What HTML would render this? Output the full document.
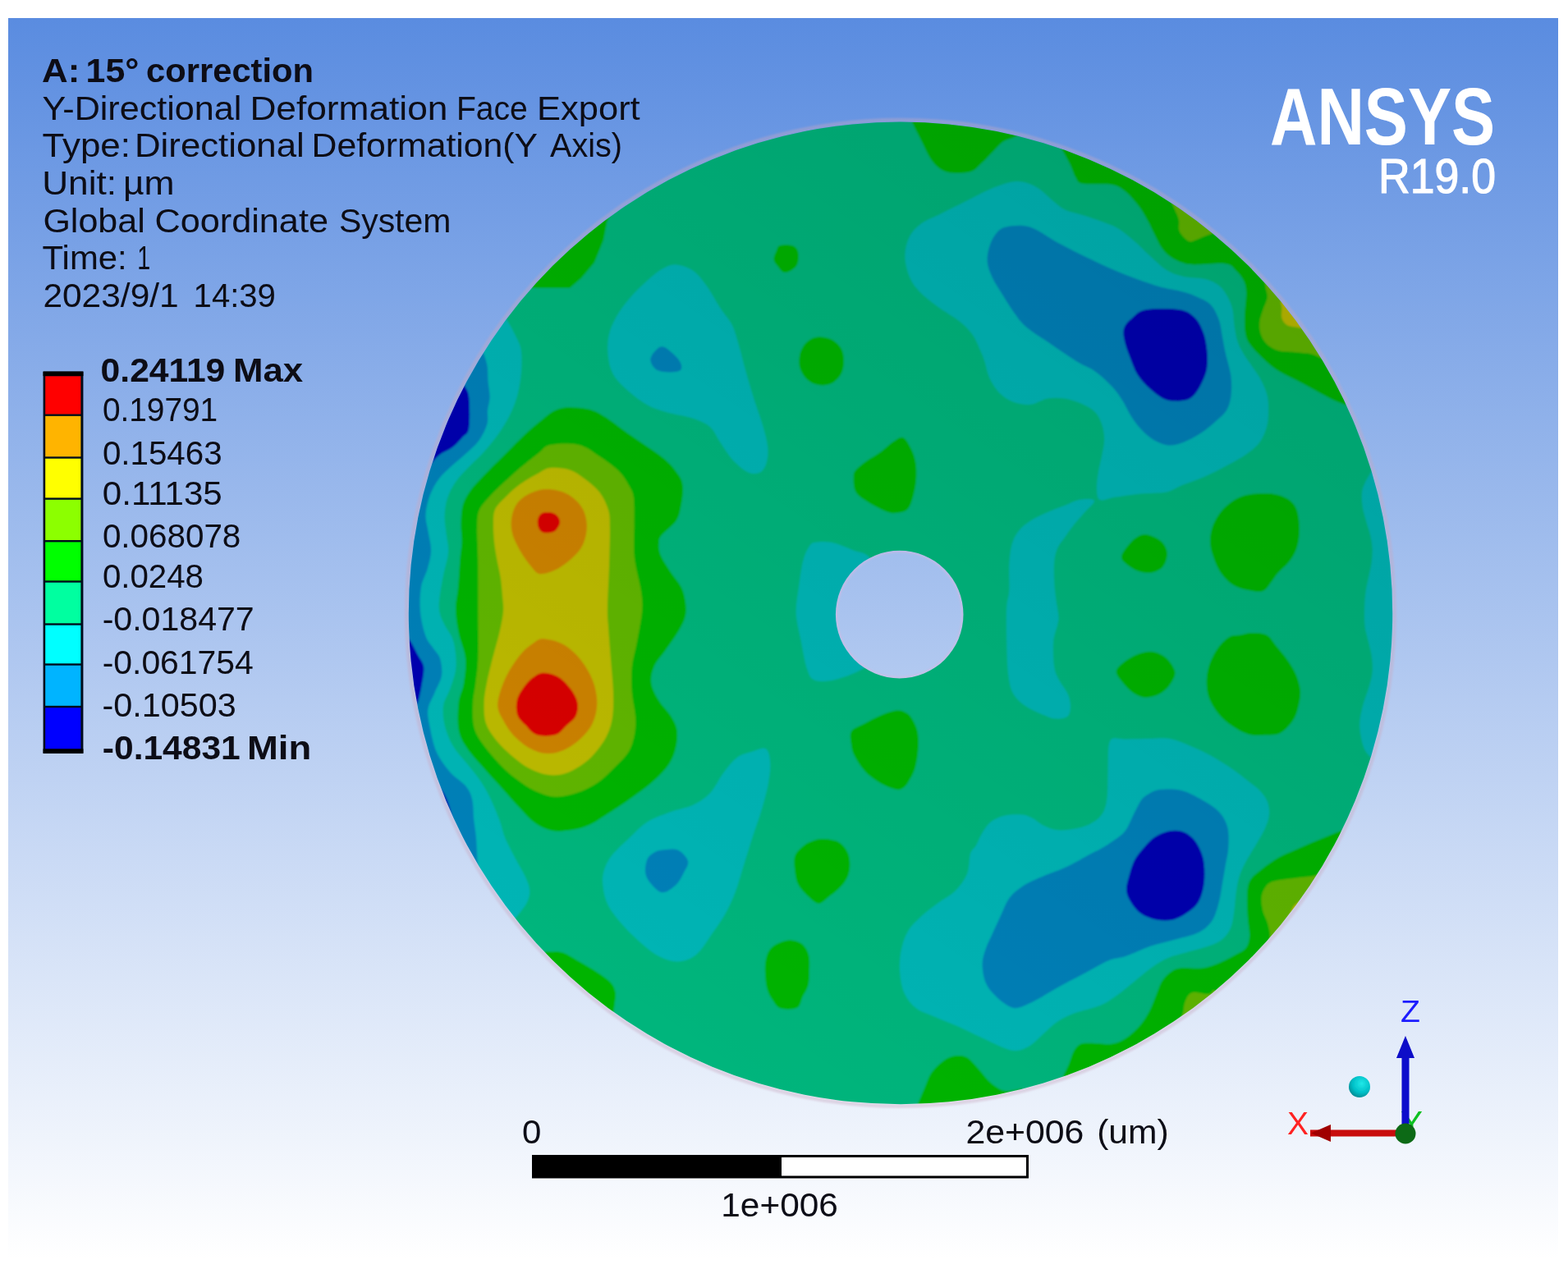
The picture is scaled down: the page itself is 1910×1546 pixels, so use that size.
<!DOCTYPE html>
<html lang="en">
<head>
<meta charset="utf-8">
<title>A: 15° correction - Y-Directional Deformation</title>
<style>
html,body{margin:0;padding:0;background:#fff;}
body{width:1910px;height:1546px;overflow:hidden;position:relative;}
svg{position:absolute;left:0;top:0;display:block;}
text{font-family:"Liberation Sans",sans-serif;}
</style>
</head>
<body>
<svg width="1910" height="1546" viewBox="0 0 1910 1546">
<defs>
<linearGradient id="bg" x1="0" y1="0" x2="0" y2="1">
<stop offset="0" stop-color="#5A8CE0"/>
<stop offset="1" stop-color="#FFFFFF"/>
</linearGradient>
<clipPath id="disk"><path clip-rule="evenodd" d="M497.8,746.9A599.2,598.3 0 1,0 1696.2,746.9A599.2,598.3 0 1,0 497.8,746.9ZM1017.9,748.6A77.8,77.8 0 1,0 1173.5,748.6A77.8,77.8 0 1,0 1017.9,748.6Z"/></clipPath>
<linearGradient id="lit" gradientUnits="userSpaceOnUse" x1="756" y1="1242" x2="1436" y2="254">
<stop offset="0" stop-color="#000" stop-opacity="0"/>
<stop offset="1" stop-color="#000" stop-opacity="0.10"/>
</linearGradient>
<filter id="tb" x="-2%" y="-10%" width="104%" height="120%"><feGaussianBlur stdDeviation="0.45"/></filter>
<filter id="soft" x="-2%" y="-2%" width="104%" height="104%"><feGaussianBlur stdDeviation="0.9"/></filter>
<radialGradient id="ball" cx="0.6" cy="0.35" r="0.7"><stop offset="0" stop-color="#20E8E8"/><stop offset="0.6" stop-color="#00C0C8"/><stop offset="1" stop-color="#008890"/></radialGradient>
</defs>
<rect x="10" y="22" width="1888" height="1512" fill="url(#bg)"/>
<g id="header" filter="url(#tb)">
<g fill="#0a0a14">
<text y="99.7" font-size="40" font-weight="bold"><tspan x="51.1" textLength="46.3" lengthAdjust="spacingAndGlyphs">A:</tspan> <tspan x="104.6" textLength="64.7" lengthAdjust="spacingAndGlyphs">15°</tspan> <tspan x="178.1" textLength="203.9" lengthAdjust="spacingAndGlyphs">correction</tspan></text>
<text y="145.5" font-size="40"><tspan x="51.5" textLength="242.8" lengthAdjust="spacingAndGlyphs">Y-Directional</tspan> <tspan x="304.4" textLength="241" lengthAdjust="spacingAndGlyphs">Deformation</tspan> <tspan x="555.9" textLength="86.8" lengthAdjust="spacingAndGlyphs">Face</tspan> <tspan x="654.1" textLength="125.6" lengthAdjust="spacingAndGlyphs">Export</tspan></text>
<text y="191.2" font-size="40"><tspan x="51.5" textLength="107.5" lengthAdjust="spacingAndGlyphs">Type:</tspan> <tspan x="164" textLength="206.7" lengthAdjust="spacingAndGlyphs">Directional</tspan> <tspan x="379.6" textLength="274.7" lengthAdjust="spacingAndGlyphs">Deformation(Y</tspan> <tspan x="670" textLength="88" lengthAdjust="spacingAndGlyphs">Axis)</tspan></text>
<text y="237" font-size="40"><tspan x="51.2" textLength="90.8" lengthAdjust="spacingAndGlyphs">Unit:</tspan> <tspan x="149.9" textLength="62.6" lengthAdjust="spacingAndGlyphs">µm</tspan></text>
<text y="282.5" font-size="40"><tspan x="52.4" textLength="124.3" lengthAdjust="spacingAndGlyphs">Global</tspan> <tspan x="188.4" textLength="211.6" lengthAdjust="spacingAndGlyphs">Coordinate</tspan> <tspan x="412.9" textLength="136.4" lengthAdjust="spacingAndGlyphs">System</tspan></text>
<text y="328" font-size="40"><tspan x="51.6" textLength="103.1" lengthAdjust="spacingAndGlyphs">Time:</tspan> <tspan x="167.3" textLength="16" lengthAdjust="spacingAndGlyphs">1</tspan></text>
<text y="373.7" font-size="40"><tspan x="52.4" textLength="165.3" lengthAdjust="spacingAndGlyphs">2023/9/1</tspan> <tspan x="235.6" textLength="100.3" lengthAdjust="spacingAndGlyphs">14:39</tspan></text>
</g>
</g>
<g id="logo" fill="#ffffff" filter="url(#tb)">
<text x="1547" y="175.5" font-size="99" font-weight="bold" textLength="274" lengthAdjust="spacingAndGlyphs">ANSYS</text>
<text x="1679" y="235" font-size="60" textLength="143" lengthAdjust="spacingAndGlyphs" stroke="#fff" stroke-width="1.2">R19.0</text>
</g>
<g id="legend" filter="url(#tb)">
<rect x="52.6" y="452.6" width="48.8" height="465.2" fill="#04101c"/>
<rect x="52.6" y="452.6" width="48.8" height="5.5" fill="#000"/>
<rect x="52.6" y="912.3" width="48.8" height="5.5" fill="#000"/>
<rect x="55.2" y="458.3" width="43.2" height="46.2" fill="#FF0000"/>
<rect x="55.2" y="506.9" width="43.2" height="49.4" fill="#FFB400"/>
<rect x="55.2" y="558.7" width="43.2" height="47.7" fill="#FFFF00"/>
<rect x="55.2" y="608.8" width="43.2" height="49.2" fill="#8CFF00"/>
<rect x="55.2" y="660.4" width="43.2" height="46.9" fill="#00FF00"/>
<rect x="55.2" y="709.7" width="43.2" height="49.6" fill="#00FFA0"/>
<rect x="55.2" y="761.7" width="43.2" height="46.6" fill="#00FFFF"/>
<rect x="55.2" y="810.7" width="43.2" height="49.1" fill="#00B4FF"/>
<rect x="55.2" y="862.2" width="43.2" height="50" fill="#0000FF"/>
<g fill="#0a0a14">
<text y="464.8" font-size="40" font-weight="bold"><tspan x="122.6" textLength="151.7" lengthAdjust="spacingAndGlyphs">0.24119</tspan> <tspan x="284.1" textLength="85.1" lengthAdjust="spacingAndGlyphs">Max</tspan></text>
<text y="513.4" font-size="40"><tspan x="124.9" textLength="140.3" lengthAdjust="spacingAndGlyphs">0.19791</tspan></text>
<text y="565.6" font-size="40"><tspan x="124.9" textLength="145.7" lengthAdjust="spacingAndGlyphs">0.15463</tspan></text>
<text y="614.6" font-size="40"><tspan x="124.8" textLength="145.9" lengthAdjust="spacingAndGlyphs">0.11135</tspan></text>
<text y="666.8" font-size="40"><tspan x="124.9" textLength="168.4" lengthAdjust="spacingAndGlyphs">0.068078</tspan></text>
<text y="716" font-size="40"><tspan x="124.9" textLength="123.1" lengthAdjust="spacingAndGlyphs">0.0248</tspan></text>
<text y="768.2" font-size="40"><tspan x="124.7" textLength="185" lengthAdjust="spacingAndGlyphs">-0.018477</tspan></text>
<text y="820.6" font-size="40"><tspan x="124.7" textLength="184.1" lengthAdjust="spacingAndGlyphs">-0.061754</tspan></text>
<text y="873.2" font-size="40"><tspan x="124.6" textLength="163.1" lengthAdjust="spacingAndGlyphs">-0.10503</tspan></text>
<text y="925.2" font-size="40" font-weight="bold"><tspan x="124.8" textLength="168" lengthAdjust="spacingAndGlyphs">-0.14831</tspan> <tspan x="300.9" textLength="78.3" lengthAdjust="spacingAndGlyphs">Min</tspan></text>
</g>
</g>
<g filter="url(#soft)">
<ellipse cx="1097" cy="746.9" rx="601.5" ry="600.6" fill="none" stroke="#c8a8c0" stroke-width="5" opacity="0.4"/>
<circle cx="1095.7" cy="748.6" r="76.8" fill="none" stroke="#d8b8e0" stroke-width="2.5" opacity="0.6"/>
</g>
<g id="contour" clip-path="url(#disk)">
<g filter="url(#soft)">
<rect x="480" y="130" width="1240" height="1240" fill="#00B57C"/>
<g fill="#00B5B5">
<path d="M612,383C612.8,384 614.5,385 617,389C619.5,393 624.2,401.3 627,407C629.8,412.7 632.6,417.5 634,423C635.4,428.5 635.5,433.5 635.5,440C635.5,446.5 635,454.7 634,462C633,469.3 631.8,476.7 629.6,484C627.4,491.3 624.5,498.7 620.8,506C617.1,513.3 612.7,520.7 607.6,528C602.5,535.3 595.9,543.4 590,550C584.1,556.6 578.3,561.4 572.4,567.6C566.5,573.8 559.4,580.8 554.8,587.4C550.2,594 547.1,600.2 544.9,607.2C542.7,614.2 541.8,621.9 541.6,629.2C541.4,636.5 543.1,643.9 543.8,651.2C544.5,658.5 546.7,664.4 546,673.2C545.3,682 541.2,694.1 539.4,704C537.6,713.9 535.6,725.3 535,732.6C534.4,739.9 534.8,743.1 536,748C537.2,752.9 539.3,756.4 542,762C544.7,767.6 550.1,773 552.4,781.4C554.6,789.8 556.2,802.8 555.5,812.4C554.8,822 550.9,831.4 548.3,839.3C545.7,847.2 541,852.4 540,860C539,867.6 539.9,876.6 542,884.9C544.1,893.2 547.9,902.1 552.4,909.7C556.9,917.3 563.8,923.9 569,930.4C574.2,936.9 579,942.5 583.5,949C588,955.5 591.8,961.4 595.9,969.7C600,978 605.1,990.2 608.3,998.7C611.5,1007.2 612,1012.9 615.2,1020.7C618.4,1028.5 623.5,1037.6 627.6,1045.5C631.7,1053.4 637.1,1061.7 640,1068.3C642.9,1074.9 644.9,1079.7 645.2,1084.9C645.5,1090.1 644.2,1094.5 642,1099.3C639.8,1104.1 635.1,1109.7 631.8,1113.8C628.5,1117.9 623.6,1122.3 622,1124L560,1130L470,1000L460,748L470,500L560,380Z"/>
<path d="M823.5,322.4C829.7,322.8 838,325.4 844.2,329.7C850.4,334 855.2,340.7 860.7,348.3C866.2,355.9 872.1,367.3 877.3,375.2C882.5,383.1 888,388.3 891.8,395.9C895.6,403.5 897.2,411.4 900,420.7C902.8,430 905.2,440.8 908.3,451.8C911.4,462.9 915.2,476 918.7,487C922.2,498 926.2,508.4 929,518C931.8,527.6 934.5,537 935.2,544.9C935.9,552.8 934.9,560.4 933.2,565.6C931.5,570.8 928.7,574.5 924.9,576C921.1,577.5 915.9,577.7 910.4,574.9C904.9,572.1 897.3,565.4 891.8,559.4C886.3,553.4 881.8,545.3 877.3,538.7C872.8,532.1 870.4,524.8 864.9,520C859.4,515.2 852.8,512.6 844.2,509.7C835.6,506.8 822.4,505.2 813.1,502.5C803.8,499.8 796.2,497.5 788.3,493.2C780.4,488.9 772.4,482.8 765.5,476.6C758.6,470.4 751,463.1 746.9,455.9C742.8,448.6 741.6,441 740.7,433.1C739.8,425.2 740,416.2 741.7,408.3C743.4,400.4 746.7,393.1 751,385.5C755.3,377.9 761.4,370 767.6,362.8C773.8,355.6 781.8,348 788.3,342.1C794.8,336.2 801,330.9 806.9,327.6C812.8,324.3 817.3,322 823.5,322.4Z"/>
<path d="M933.2,912.4C936.8,915 938,923.4 938.3,931C938.6,938.6 937.1,948.3 935.2,958C933.3,967.7 930.1,978.7 927,989C923.9,999.3 920.1,1009.3 916.6,1020C913.1,1030.7 909.8,1042 906.3,1053C902.8,1064 899.7,1076.3 895.9,1086.3C892.1,1096.3 888.3,1104.6 883.5,1113.2C878.7,1121.8 872.2,1130.4 867,1138C861.8,1145.6 857.2,1153.5 852.4,1158.7C847.6,1163.9 843.5,1167 838,1169C832.5,1171 825.9,1172 819.3,1171C812.7,1170 805.5,1166.9 798.6,1162.8C791.7,1158.7 784.8,1152.5 777.9,1146.3C771,1140.1 763.5,1132.8 757.3,1125.6C751.1,1118.3 744.5,1110.4 740.7,1102.8C736.9,1095.2 735.4,1086.9 734.5,1080C733.6,1073.1 733.8,1067.6 735.5,1061.4C737.2,1055.2 739.8,1049.4 744.8,1042.8C749.8,1036.2 758.2,1028.9 765.5,1022C772.8,1015.1 779.7,1006.9 788.3,1001.4C796.9,995.9 808,992.5 817.3,989C826.6,985.5 836.3,984.5 844.2,980.7C852.1,976.9 858.7,972.8 864.9,966.2C871.1,959.7 875.9,948.6 881.4,941.4C886.9,934.2 892.1,927.1 898,922.8C903.9,918.5 910.7,917.2 916.6,915.5C922.5,913.8 929.6,909.8 933.2,912.4Z"/>
<path d="M1231.8,221.7C1239.4,220.3 1244.5,221.2 1250.4,222.8C1256.3,224.4 1261.5,227.2 1267,231C1272.5,234.8 1278.3,241.4 1283.5,245.6C1288.7,249.8 1292.1,253.3 1298,256C1303.9,258.7 1310.9,259.5 1318.7,262C1326.5,264.5 1337.6,268.2 1345,271C1352.4,273.8 1356.8,275.2 1363,279C1369.2,282.8 1375.8,288.7 1382,294C1388.2,299.3 1393.5,305.2 1400,311C1406.5,316.8 1414,324.7 1421,329C1428,333.3 1434.2,335.2 1442,337C1449.8,338.8 1460.8,338.2 1468,340C1475.2,341.8 1480.5,344.5 1485,348C1489.5,351.5 1492.3,356.2 1495,361C1497.7,365.8 1500,371.2 1501.4,377C1502.8,382.8 1502.5,389.4 1503.5,396C1504.5,402.6 1505.5,410.4 1507.6,416.6C1509.7,422.8 1512.9,427.8 1516,433C1519.1,438.2 1522.6,442.4 1526,447.6C1529.4,452.8 1533.6,458.1 1536.6,464C1539.6,469.9 1542.4,476.5 1543.8,482.8C1545.2,489.1 1545.1,495.8 1545,502C1544.9,508.2 1544.8,513.9 1543,520C1541.2,526.1 1538.7,533.1 1534.5,538.7C1530.3,544.3 1524.4,549 1517.7,553.8C1511,558.6 1502.6,562.8 1494.2,567.3C1485.8,571.8 1476.3,576.8 1467.3,580.7C1458.3,584.7 1447.8,587.9 1440,591C1432.2,594.1 1429.2,597.7 1420.8,599.4C1412.4,601.1 1400,600.4 1389.7,601.4C1379.4,602.4 1367,604.3 1358.7,605.6C1350.4,606.9 1343.8,610.7 1340,609C1336.2,607.3 1336.3,601 1336,595.2C1335.7,589.5 1337,581 1338,574.5C1339,568 1340.8,562.5 1342,556C1343.2,549.5 1345.2,541.8 1345.2,535.2C1345.2,528.6 1343.9,522.1 1342,516.6C1340.1,511.1 1338,506.1 1333.9,502C1329.8,497.9 1323.5,494.4 1317.3,491.7C1311.1,488.9 1303.5,486.5 1296.6,485.5C1289.7,484.5 1282.9,484.3 1276,485.5C1269.1,486.7 1262.1,492.1 1255.2,492.8C1248.3,493.5 1240.7,491.9 1234.5,489.7C1228.3,487.4 1222.8,484.1 1218,479.3C1213.2,474.5 1208.6,467.2 1205.5,460.7C1202.4,454.1 1201.1,445.5 1199.3,440C1197.5,434.5 1197,433.2 1194.5,427.7C1192,422.2 1188.7,413.2 1184.2,407C1179.7,400.8 1174.5,395.9 1167.6,390.4C1160.7,384.9 1150.7,379.8 1142.8,373.9C1134.9,368 1125.9,361.4 1120,355.2C1114.1,349 1110.5,343.8 1107.6,336.6C1104.7,329.4 1102.4,319.7 1102.4,311.8C1102.4,303.9 1104.3,295.6 1107.6,289C1110.9,282.4 1115.5,277.3 1122,272.5C1128.5,267.7 1137.9,264.5 1146.9,260C1155.9,255.5 1166.2,250.3 1175.9,245.5C1185.6,240.7 1195.6,235 1204.9,231C1214.2,227 1224.2,223.1 1231.8,221.7Z"/>
<path d="M1333,610C1333.7,612.9 1323.7,621.2 1319.4,626.3C1315.1,631.4 1310.8,635.9 1307,640.7C1303.2,645.5 1299.7,650.7 1296.6,655.2C1293.5,659.7 1290.4,662.8 1288.3,667.6C1286.2,672.4 1284.9,677.3 1284.2,684.2C1283.5,691.1 1283.9,701.4 1284.2,709C1284.5,716.6 1285.4,722.8 1286.3,729.7C1287.2,736.6 1289.1,745.2 1289.4,750.4C1289.7,755.6 1289.3,755.5 1288.3,760.7C1287.3,765.9 1283.9,772.8 1283.2,781.4C1282.5,790 1283,804.5 1284.2,812.4C1285.4,820.3 1287.7,823.5 1290.4,829C1293.2,834.5 1298.5,840.3 1300.7,845.5C1303,850.7 1303.9,855.5 1303.9,860C1303.9,864.5 1303.6,869.8 1300.7,872.4C1297.8,875 1291.5,875.9 1286.3,875.6C1281.1,875.3 1275.9,873 1269.7,870.4C1263.5,867.8 1254.9,864.1 1249,860C1243.1,855.9 1238,851.7 1234.5,845.5C1231,839.3 1229.7,833.5 1228.3,822.8C1226.9,812.1 1226.5,795.2 1226.2,781.4C1225.9,767.6 1225.7,750.3 1226.2,740C1226.7,729.7 1228.8,728 1229.3,719.4C1229.8,710.8 1228.8,697.6 1229.3,688.3C1229.8,679 1230.6,670.4 1232.5,663.5C1234.4,656.6 1236.9,651.8 1240.7,647C1244.5,642.2 1249.3,638.3 1255.2,634.5C1261.1,630.7 1269.1,627.1 1276,624C1282.9,620.9 1290.1,618.5 1296.6,616C1303.1,613.5 1309.1,609.7 1315.2,608.7C1321.3,607.7 1332.3,607.1 1333,610Z"/>
<path d="M993,660.8C997.5,660 1004.9,659.2 1012.7,660.8C1020.5,662.4 1031.8,667.4 1039.7,670.6C1047.6,673.8 1052.5,671.8 1060,680C1067.5,688.2 1080.8,701.7 1085,720C1089.2,738.3 1090.9,774.1 1085,790C1079.1,805.9 1060.8,809.3 1049.6,815.6C1038.4,821.9 1027,825.7 1017.6,827.9C1008.2,830.1 998.7,831 993,829C987.3,827 986.1,823.6 983.2,815.6C980.3,807.6 978,792.7 975.8,781.2C973.5,769.7 970.1,758.3 969.7,746.8C969.3,735.3 972,723 973.4,712.4C974.8,701.8 976.2,690.7 978.3,682.9C980.3,675.1 983.2,669.4 985.7,665.7C988.2,662 988.5,661.6 993,660.8Z"/>
<path d="M1672,572C1670.4,574.8 1664.5,584.2 1662.3,589C1660.1,593.8 1659.4,596.2 1659,601C1658.6,605.8 1659,612.1 1659.8,617.7C1660.6,623.3 1662.5,628.9 1664,634.5C1665.5,640.1 1667.7,645.7 1669,651.3C1670.3,656.9 1671.3,662.4 1671.6,668C1671.9,673.6 1671.4,679.4 1670.7,685C1670,690.6 1668.5,696.2 1667.4,701.8C1666.3,707.4 1664.8,713 1664,718.6C1663.2,724.2 1662.6,728.5 1662.3,735.4C1662,742.3 1661.9,753.6 1662.3,760C1662.7,766.4 1663.4,767.1 1664.8,773.6C1666.2,780.1 1669.6,791.3 1670.7,798.9C1671.8,806.5 1672.1,812.6 1671.6,819C1671,825.4 1669.2,831 1667.4,837.5C1665.6,844 1662.4,851 1660.6,857.7C1658.8,864.4 1657,871.7 1656.4,877.9C1655.9,884.1 1656.3,888.8 1657.3,894.7C1658.3,900.6 1659.8,908.2 1662.3,913.2C1664.8,918.2 1670.4,923 1672,925L1730,930L1730,570Z"/>
<path d="M1352,903C1353.1,900.4 1353.8,899.8 1356.6,899.4C1359.4,899 1361.8,900.3 1369,900.4C1376.2,900.5 1390.6,900.1 1400,900C1409.4,899.9 1416.8,898.5 1425.2,900C1433.6,901.5 1442,905.5 1450.4,909C1458.8,912.5 1467.3,916.4 1475.7,921C1484.1,925.6 1493.4,931.6 1500.9,936.7C1508.5,941.9 1515.4,947.5 1521,951.9C1526.6,956.3 1530.7,958.9 1534.5,963C1538.3,967.1 1541.9,971.6 1543.8,976.6C1545.7,981.6 1546.4,987.5 1545.9,993C1545.4,998.5 1543.3,1003.8 1540.7,1009.7C1538.1,1015.6 1534.2,1021.8 1530.4,1028.3C1526.6,1034.8 1521.5,1042.5 1518,1049C1514.5,1055.5 1511.8,1061 1509.7,1067.6C1507.6,1074.1 1506.6,1081.4 1505.6,1088.3C1504.6,1095.2 1504.5,1102.1 1503.5,1109C1502.5,1115.9 1501.8,1123.8 1499.4,1129.7C1497,1135.6 1493.5,1140.4 1489,1144.2C1484.5,1148 1480,1149.8 1472.4,1152.5C1464.8,1155.2 1451.8,1158.3 1443.5,1160.7C1435.2,1163.1 1429.7,1163.9 1422.8,1167C1415.9,1170.1 1408.9,1174.6 1402,1179.4C1395.1,1184.2 1388.3,1190.5 1381.4,1196C1374.5,1201.5 1367.6,1207.7 1360.7,1212.5C1353.8,1217.3 1348.7,1221.3 1340,1225C1331.3,1228.7 1317,1231.2 1308.3,1234.5C1299.6,1237.8 1293.9,1240.8 1287.7,1244.9C1281.5,1249.1 1276.5,1254.6 1271,1259.4C1265.5,1264.2 1260,1270.5 1254.5,1273.9C1249,1277.3 1243.5,1279.7 1238,1280C1232.5,1280.3 1228.7,1278.8 1221.4,1276C1214.2,1273.2 1204.2,1268 1194.5,1263.5C1184.8,1259 1172.8,1253.1 1163.5,1249C1154.2,1244.9 1146.5,1242.2 1138.6,1238.7C1130.7,1235.2 1122.1,1233.1 1115.9,1228.3C1109.7,1223.5 1104.7,1216.9 1101.4,1209.7C1098.1,1202.5 1096.9,1193.2 1096.2,1184.9C1095.5,1176.6 1095.8,1168.3 1097.3,1160C1098.8,1151.7 1101.4,1142.4 1105.5,1135.2C1109.6,1128 1115.8,1122.5 1122,1116.6C1128.2,1110.7 1135.9,1105.2 1142.8,1100C1149.7,1094.8 1157.6,1091.4 1163.5,1085.5C1169.4,1079.6 1174.9,1072.4 1178,1064.8C1181.1,1057.2 1180.2,1045.8 1182,1040C1183.8,1034.2 1186.5,1034.2 1189,1029.7C1191.5,1025.2 1194.2,1018 1197.3,1013.2C1200.4,1008.4 1203.1,1004.1 1207.6,1000.8C1212.1,997.5 1218,994.9 1224.2,993.5C1230.4,992.1 1239.4,992 1244.9,992.5C1250.4,993 1253.2,994.5 1257.3,996.6C1261.4,998.7 1264.9,1002.5 1269.7,1004.9C1274.5,1007.3 1280.1,1010.1 1286.3,1011C1292.5,1011.9 1300.1,1011.2 1307,1010C1313.9,1008.8 1321.8,1006.8 1327.6,1003.9C1333.4,1001 1338.5,997.5 1342,992.5C1345.5,987.5 1347.1,981.5 1348.3,973.9C1349.5,966.3 1349.1,956.8 1349.4,947C1349.7,937.2 1349.6,922.3 1350,915C1350.4,907.7 1350.9,905.6 1352,903Z"/>
</g>
<g fill="#0080B8">
<path d="M584,420C584.7,421.3 586.4,423.9 588,428C589.6,432.1 592.3,438.7 593.4,444.7C594.5,450.7 594,457.4 594.5,464C595,470.6 596.7,478 596.6,484C596.5,490 594.5,494.5 594,500C593.5,505.5 595.1,510.9 593.3,517C591.5,523.1 587.6,530.9 583.4,536.8C579.2,542.7 573.5,547.1 568,552.2C562.5,557.3 555.9,562.5 550.4,567.6C544.9,572.7 539.4,577.1 535,583C530.6,588.9 526.8,595.5 524,602.8C521.2,610.1 518.9,619.3 518.5,627C518.1,634.7 520.7,641.7 521.8,649C522.9,656.3 525.3,663.7 525.1,671C524.9,678.3 522.7,685.7 520.7,693C518.7,700.3 514.5,706.3 513,715C511.6,723.7 511.1,735 512,745C512.9,755 515.8,767.5 518.5,775C521.2,782.5 525.1,785.5 528,790C530.9,794.5 534.2,796.5 535.9,802C537.6,807.5 539,815.9 538,822.8C537,829.7 532.5,836.6 529.7,843.5C526.9,850.4 522.4,857.1 521.4,864C520.4,870.9 521.8,876.2 523.5,884.9C525.2,893.6 527.6,906.7 531.7,916C535.8,925.3 542.4,933.8 548.3,940.7C554.2,947.6 562.5,951.8 567,957.3C571.5,962.8 573.5,967 575.2,973.9C576.9,980.8 576.5,990.9 577.3,998.7C578.1,1006.5 579.2,1011.5 580,1020.7C580.8,1029.9 581.3,1046.5 582,1054C582.7,1061.5 583.7,1064 584,1066L540,1070L470,900L460,748L470,560L540,420Z"/>
<path d="M809,422.8C813.8,424.9 824.5,434.6 827.6,439.4C830.7,444.2 831.7,449.7 827.6,451.8C823.5,453.9 808.7,453.9 802.8,451.8C796.9,449.7 793.1,443.5 792.4,439.4C791.7,435.3 795.8,429.8 798.6,427C801.4,424.2 804.2,420.7 809,422.8Z"/>
<path d="M806.9,1035.6C811.7,1035.1 820.3,1033.4 825.5,1035.6C830.7,1037.8 836.8,1044.3 838,1049C839.2,1053.7 835.2,1058.7 832.8,1063.5C830.4,1068.3 827.8,1074 823.5,1078C819.2,1082 812.1,1087.6 806.9,1087.3C801.7,1087 795.8,1080 792.4,1076C789,1072 786.9,1068.3 786.2,1063.5C785.5,1058.7 786.6,1051.1 788.3,1047C790,1042.9 793.5,1040.6 796.6,1038.7C799.7,1036.8 802.1,1036.1 806.9,1035.6Z"/>
<path d="M1225.6,276.6C1232.5,275.2 1244.2,273.5 1254.5,276.6C1264.8,279.7 1275.3,288.6 1287.7,295.2C1300.1,301.8 1315.2,309.4 1329,316C1342.8,322.6 1356.6,329 1370.4,334.5C1384.2,340 1400.2,345.6 1411.8,349C1423.4,352.4 1432.6,353.2 1440,355.2C1447.4,357.1 1450.2,358.1 1456,360.7C1461.8,363.3 1469.7,366.2 1474.5,371C1479.3,375.8 1482.5,383.1 1484.9,389.7C1487.3,396.3 1487.7,403.5 1489,410.4C1490.3,417.3 1491.3,423.1 1493,431C1494.7,438.9 1498.3,449.4 1499.4,458C1500.5,466.6 1500.3,475.8 1499.4,482.8C1498.5,489.8 1497.1,494.9 1494,500C1490.9,505.1 1485.7,509 1480.7,513.5C1475.7,518 1470.4,522.8 1463.9,527C1457.5,531.2 1448.8,536.1 1442,538.7C1435.2,541.3 1429.1,543 1422.8,542.4C1416.5,541.8 1409.7,538.5 1404.2,535.2C1398.7,531.9 1394.2,527.6 1389.7,522.8C1385.2,518 1381.1,512.1 1377.3,506.2C1373.5,500.3 1370.8,493.5 1367,487.6C1363.2,481.7 1360.1,476.9 1354.6,471C1349.1,465.1 1341.2,457.6 1333.9,452.4C1326.6,447.2 1320.4,445.9 1311,440C1301.6,434.1 1287.4,424.2 1277.3,417.3C1267.2,410.4 1257.3,404.6 1250.4,398.7C1243.5,392.8 1240.8,388.6 1236,382C1231.2,375.4 1225.9,366.6 1221.4,359.4C1216.9,352.2 1212.1,345.3 1209,338.7C1205.9,332.1 1203.5,326.2 1202.8,320C1202.1,313.8 1203.2,307.2 1204.9,301.4C1206.6,295.6 1209.5,289.1 1213,285C1216.5,280.9 1218.7,278 1225.6,276.6Z"/>
<path d="M1412.4,962C1419.3,961.2 1430.7,960.9 1439.3,963C1447.9,965.1 1456.6,970.2 1464.2,974.5C1471.8,978.8 1479.7,983.5 1484.9,989C1490.1,994.5 1493.3,1000.4 1495.2,1007.6C1497.1,1014.8 1496.7,1024.8 1496.3,1032.4C1495.9,1040 1494.2,1045.7 1493,1053C1491.8,1060.3 1490.3,1068.4 1489,1076C1487.7,1083.6 1487,1091.1 1484.9,1098.7C1482.8,1106.3 1480.8,1115.2 1476.6,1121.4C1472.4,1127.6 1467.3,1132.2 1460,1136C1452.7,1139.8 1442.7,1141.5 1433,1144.2C1423.3,1147 1412.3,1149 1402,1152.5C1391.7,1156 1379.7,1162 1371,1165C1362.3,1168 1358.4,1166.7 1349.7,1170.4C1341,1174.1 1329,1181.5 1318.7,1187C1308.4,1192.5 1297,1198.3 1287.7,1203.5C1278.4,1208.7 1270.4,1214 1262.8,1218C1255.2,1222 1247.5,1225.9 1242,1227.3C1236.5,1228.7 1234.5,1228.5 1229.7,1226.3C1224.9,1224 1217.8,1218.6 1213,1213.8C1208.2,1209 1203.4,1203.8 1200.7,1197.3C1198,1190.8 1196.6,1181.4 1196.6,1174.5C1196.6,1167.6 1198.6,1162.1 1200.7,1155.9C1202.8,1149.7 1205.9,1144.2 1209,1137.3C1212.1,1130.4 1216,1121.8 1219.4,1114.5C1222.9,1107.2 1225.2,1099.7 1229.7,1093.8C1234.2,1087.9 1240.1,1083.4 1246.3,1079.3C1252.5,1075.2 1258.4,1072.8 1267,1069C1275.6,1065.2 1287.7,1061.4 1298,1056.6C1308.3,1051.8 1322,1043.7 1329,1040C1336,1036.3 1335.4,1037.2 1340,1034.5C1344.6,1031.8 1351.4,1027.8 1356.6,1024C1361.8,1020.2 1366.9,1017.2 1371,1011.7C1375.1,1006.2 1378.2,997.1 1381.4,991C1384.6,984.9 1387.2,978.8 1390,975C1392.8,971.2 1394.3,970.2 1398,968C1401.7,965.8 1405.5,962.8 1412.4,962Z"/>
</g>
<g fill="#0000B0">
<path d="M563,462C563.5,463.3 564.6,466.3 566,470C567.4,473.7 570.4,475.4 571.3,484C572.2,492.6 572.6,513.3 571.3,521.4C570,529.5 567.1,528.4 563.6,532.4C560.1,536.4 555.2,541.9 550.4,545.6C545.6,549.3 539.2,551.1 535,554.4C530.8,557.7 527.5,562.5 525,565.4C522.5,568.3 520.8,570.9 520,572L480,572L480,462Z"/>
<path d="M494,774C495,775.2 497.5,777 500,781C502.5,785 506.3,792.8 509,798C511.7,803.2 515.4,806.6 516.2,812.4C517,818.2 515.2,825.8 514,833C512.8,840.2 510.8,851.1 509,855.9C507.2,860.7 504,861 503,862L470,862L470,774Z"/>
<path d="M536,960C536.8,961.2 539.3,964 541,967C542.7,970 544.5,973.8 546,978C547.5,982.2 549.2,988.3 550,992C550.8,995.7 550.8,998.7 551,1000L530,1000L520,960Z"/>
<path d="M1395.9,377.3C1405.6,375.6 1427.3,375.6 1437.3,377.3C1447.3,379 1451.2,382.8 1456,387.6C1460.8,392.4 1463.8,399.4 1466.2,406C1468.6,412.6 1469.7,420.1 1470.4,427C1471.1,433.9 1471.1,441.8 1470.4,447.6C1469.7,453.4 1468.1,457.1 1466,462C1463.9,466.9 1461,472.9 1458,477C1455,481.1 1452.2,484.7 1447.7,486.6C1443.2,488.5 1436.2,488.8 1431,488.6C1425.8,488.4 1421.8,488.1 1416.6,485.5C1411.4,482.9 1405.2,477.8 1400,473C1394.8,468.2 1389.4,462.6 1385.6,456.6C1381.8,450.6 1379.6,443.7 1377,437C1374.4,430.3 1371.3,422.8 1370,416.6C1368.7,410.4 1367.5,404.8 1369,400C1370.5,395.2 1374.5,391.4 1379,387.6C1383.5,383.8 1386.2,379 1395.9,377.3Z"/>
<path d="M1422.8,1012.8C1428.3,1011.6 1434.1,1011.3 1439.3,1012.8C1444.5,1014.3 1449.6,1017.4 1453.8,1022C1458,1026.7 1462,1034.5 1464.2,1040.7C1466.5,1046.9 1467,1052.8 1467.3,1059.3C1467.6,1065.8 1467.4,1073.4 1466.2,1080C1465,1086.6 1463.1,1093.5 1460,1098.7C1456.9,1103.9 1452.8,1107.4 1447.6,1111C1442.4,1114.6 1435.5,1118.8 1429,1120.4C1422.5,1122 1414.8,1121.6 1408.3,1120.4C1401.8,1119.2 1394.9,1116.6 1389.7,1113C1384.5,1109.4 1380.2,1103.5 1377.3,1098.7C1374.3,1093.9 1372.3,1089.4 1372,1084.2C1371.7,1079 1373.6,1073.5 1375.2,1067.6C1376.8,1061.7 1378.7,1054.5 1381.4,1049C1384.2,1043.5 1387.6,1039.3 1391.7,1034.5C1395.8,1029.7 1401,1023.6 1406.2,1020C1411.4,1016.4 1417.3,1014 1422.8,1012.8Z"/>
</g>
<g fill="#00B400">
<path d="M681,498C690.7,495.2 704.9,496.5 714,498C723.1,499.5 727,501.8 735.7,507C744.4,512.2 754.4,520.5 766.4,529C778.4,537.5 798.1,549.9 808,558C817.9,566.1 822,572.1 826,577.8C830,583.5 831,586 831.7,592C832.4,598 831.3,607 830,614C828.7,621 828,627.7 824,634C820,640.3 809.5,647.5 806,652C802.5,656.5 803,657 802.7,661C802.5,665 802.1,669.7 804.5,675.7C806.9,681.7 812.8,690.4 817,697C821.2,703.6 827,709.4 830,715.5C833,721.6 834.2,727.9 835,733.6C835.8,739.4 836.2,744.5 835,750C833.8,755.5 831.7,759.9 827.7,766.9C823.7,773.9 816.2,784.1 811,791.7C805.8,799.3 799.5,805.5 796.6,812.4C793.7,819.3 792.5,826.1 793.5,833C794.5,839.9 798.8,847.2 802.8,853.8C806.8,860.4 813.7,866.6 817.3,872.5C820.9,878.4 823.6,882.8 824.6,889C825.6,895.2 825,902.8 823.5,909.7C822,916.6 819.8,923.5 815.3,930.4C810.8,937.3 804.2,944.1 796.6,951C789,957.9 779.4,964.9 769.7,971.8C760.1,978.7 747.3,987 738.7,992.5C730.1,998 724.9,1001.9 718,1005C711.1,1008.1 704.9,1009.8 697.3,1011C689.7,1012.2 680.1,1013.4 672.5,1012C664.9,1010.6 658.4,1007.4 651.8,1002.8C645.2,998.2 639.6,991.1 633,984.2C626.4,977.3 619.3,969 612.4,961.4C605.5,953.8 599,947 591.8,938.7C584.6,930.4 574.5,920.1 569,911.8C563.5,903.5 560.3,898.3 558.6,889C556.9,879.7 557.6,865.2 558.6,855.9C559.6,846.6 563.4,842 564.8,833C566.2,824 567.9,812.3 566.9,802C565.9,791.7 560.6,781 558.6,771C556.6,761 555.1,751.3 555,742C554.9,732.7 557.2,725 558.1,715C559,705 559.6,691.2 560.3,682C561,672.8 562.3,667.3 562.5,660C562.7,652.7 561.2,645.3 561.4,638C561.6,630.7 561.8,622.6 563.6,616C565.4,609.4 568,604.6 572.4,598.4C576.8,592.2 583.4,585.6 590,578.6C596.6,571.6 604.7,563.9 612,556.6C619.3,549.3 626.7,541.6 634,534.6C641.3,527.6 648.2,520.9 656,514.8C663.8,508.7 671.3,500.8 681,498Z"/>
<path d="M950,299C953.2,298 961.3,297.8 965,299C968.7,300.2 970.8,302.5 972,306C973.2,309.5 973,316.3 972,320C971,323.7 968.8,326 966,328C963.2,330 958.2,332.7 955,332C951.8,331.3 949.1,326.7 947,324C944.9,321.3 942.7,319.2 942.5,316C942.3,312.8 944.8,307.8 946,305C947.2,302.2 946.8,300 950,299Z"/>
<path d="M1000,410.4C1004.3,410.6 1009.8,411.6 1014,414C1018.2,416.4 1022.7,420.7 1025,425C1027.3,429.3 1028,435 1028,440C1028,445 1027.2,450.7 1025,455C1022.8,459.3 1018.7,463.6 1015,466C1011.3,468.4 1007.2,469.2 1003,469.4C998.8,469.6 993.8,468.7 990,467C986.2,465.3 982.7,462.3 980,459C977.3,455.7 975,451.3 974,447C973,442.7 973.2,437.3 974,433C974.8,428.7 976.7,424.3 979,421C981.3,417.7 984.5,414.8 988,413C991.5,411.2 995.7,410.2 1000,410.4Z"/>
<path d="M1100,533C1103.7,534.5 1107.4,541.8 1110,547C1112.6,552.2 1114.5,557.7 1115.5,564C1116.5,570.3 1116.6,578 1116,585C1115.4,592 1113.7,600.2 1112,606C1110.3,611.8 1108.8,616.9 1106,620C1103.2,623.1 1099.1,623.8 1095,624.5C1090.9,625.2 1087.8,626.1 1081.5,624C1075.2,621.9 1063.5,615.8 1057,611.6C1050.5,607.4 1045.1,604.3 1042.2,599C1039.3,593.7 1039.6,584.5 1039.7,580C1039.8,575.5 1040.5,575 1043,572C1045.5,569 1050.2,565.5 1055,562C1059.8,558.5 1066.5,555 1072,551C1077.5,547 1083.3,541 1088,538C1092.7,535 1096.3,531.5 1100,533Z"/>
<path d="M1089,866C1093.9,865.2 1097.7,865.6 1101.2,867C1104.8,868.4 1107.6,870.5 1110.3,874.5C1113,878.5 1116.2,884.8 1117.6,891C1119,897.2 1119.1,904.2 1118.6,911.8C1118.1,919.4 1116.6,929.7 1114.5,936.6C1112.4,943.5 1108.6,949.3 1106.2,953.2C1103.8,957.1 1102.3,958.5 1100,960C1097.7,961.5 1096.5,962.7 1092.5,962C1088.5,961.3 1082.2,959.3 1076,955.9C1069.8,952.5 1061.2,947.3 1055.3,941.4C1049.4,935.5 1043.9,926.8 1040.8,920.7C1037.7,914.6 1037.2,910 1036.6,905C1036,900 1034.7,894.4 1037.3,890.6C1039.9,886.8 1046.3,885.1 1052,882C1057.7,878.9 1065.5,874.7 1071.7,872C1077.9,869.3 1084.1,866.8 1089,866Z"/>
<path d="M1003.5,1022C1008.7,1022.4 1017.2,1023.1 1022.2,1026.2C1027.2,1029.3 1031.4,1034.8 1033.5,1040.7C1035.6,1046.6 1035.8,1055.2 1034.6,1061.4C1033.4,1067.6 1030.4,1072.8 1026.3,1078C1022.1,1083.2 1014.5,1088.7 1009.7,1092.5C1004.9,1096.3 1001.4,1100.7 997.3,1100.7C993.2,1100.7 989,1096.3 984.9,1092.5C980.8,1088.7 975.3,1083.2 972.5,1078C969.7,1072.8 969,1067.3 968.3,1061.4C967.6,1055.5 966.6,1048 968.3,1042.8C970,1037.6 974.9,1033.5 978.7,1030.4C982.5,1027.3 986.9,1025.4 991,1024C995.1,1022.6 998.3,1021.6 1003.5,1022Z"/>
<path d="M964.3,1145.4C969.1,1145.7 974.2,1147.3 977.7,1150.4C981.2,1153.5 983.9,1158.3 985.3,1163.9C986.7,1169.5 986.1,1177.8 986,1184C985.9,1190.2 985.8,1195.9 984.4,1200.9C983,1206 979.9,1209.8 977.7,1214.3C975.5,1218.8 975.5,1225.4 971,1227.8C966.5,1230.2 955.8,1230.3 950.8,1228.6C945.8,1226.9 943.4,1221.5 940.7,1217.7C938,1213.9 936.2,1210.4 934.8,1205.9C933.4,1201.4 932.7,1196.4 932.3,1190.8C931.9,1185.2 931.4,1177.9 932.3,1172.3C933.1,1166.7 934.6,1161.1 937.4,1157.2C940.2,1153.3 944.5,1150.8 949,1148.8C953.5,1146.8 959.5,1145.1 964.3,1145.4Z"/>
<path d="M1396,651C1401.2,651.7 1410.3,655.6 1414.6,659.4C1418.9,663.2 1421.5,668.7 1421.8,673.9C1422.1,679.1 1419.9,686.4 1416.6,690.4C1413.3,694.4 1407.2,696.8 1402,697.7C1396.8,698.6 1390.8,697.5 1385.6,695.6C1380.4,693.7 1374.3,689.2 1371,686.3C1367.7,683.4 1365.6,681.5 1366,678C1366.4,674.5 1370.3,669.4 1373.2,665.6C1376.1,661.8 1379.7,657.6 1383.5,655.2C1387.3,652.8 1390.8,650.3 1396,651Z"/>
<path d="M1402.2,793.8C1408.1,794.1 1414.2,796.9 1418.7,800C1423.2,803.1 1426.9,808.6 1429,812.4C1431.1,816.2 1432.1,818.6 1431.1,822.8C1430.1,826.9 1426.2,833.3 1422.8,837.3C1419.3,841.3 1415.2,844.5 1410.4,846.6C1405.6,848.7 1399.1,850.2 1393.9,849.7C1388.7,849.2 1383.9,846.6 1379.4,843.5C1374.9,840.4 1370.3,835.1 1367,831C1363.7,826.9 1359.7,822.4 1359.7,818.6C1359.7,814.8 1363,811.7 1367,808.3C1371,804.9 1377.6,800.4 1383.5,798C1389.4,795.6 1396.3,793.5 1402.2,793.8Z"/>
<path d="M1526,601.7C1533,601 1544.3,600.7 1551.3,601.7C1558.3,602.7 1563.7,604.9 1568.2,607.6C1572.7,610.3 1575.8,613.2 1578.2,617.7C1580.6,622.2 1581.7,628.3 1582.4,634.5C1583.1,640.7 1583.1,648.5 1582.4,654.7C1581.7,660.9 1580.3,666.5 1578.2,671.5C1576.1,676.5 1573.4,680.5 1569.8,685C1566.2,689.5 1560,694.2 1556.4,698.4C1552.8,702.6 1551.1,706.4 1548,710C1544.9,713.6 1543,718.9 1537.9,720.3C1532.9,721.7 1523.9,720 1517.7,718.6C1511.5,717.2 1506,715.3 1500.9,711.9C1495.9,708.5 1491.1,703.4 1487.4,698.4C1483.8,693.4 1481.2,687.8 1479,681.6C1476.8,675.4 1474.4,667.8 1474,661.4C1473.6,655 1474.8,648.6 1476.5,643C1478.2,637.4 1481,632.3 1484,627.8C1487,623.3 1490,619.6 1494.2,616C1498.4,612.4 1504,608.4 1509.3,606C1514.6,603.6 1519,602.4 1526,601.7Z"/>
<path d="M1524.4,771C1529.7,771 1537.9,770.9 1542.9,773.6C1548,776.3 1550.5,782 1554.7,787C1558.9,792 1564.3,798.3 1568.2,803.9C1572.1,809.5 1575.6,814.5 1578.2,820.7C1580.8,826.9 1583.4,834.2 1584,840.9C1584.6,847.6 1583.1,854.8 1581.6,861C1580.1,867.2 1578.6,872.6 1574.9,877.9C1571.2,883.2 1565,890.1 1559.7,893C1554.4,895.9 1549.4,895.2 1542.9,895.5C1536.5,895.8 1528,896.5 1521,894.7C1514,892.9 1507.1,888.8 1500.9,884.6C1494.7,880.4 1488.8,875.4 1484,869.5C1479.2,863.6 1474.7,856.3 1472.3,849.3C1469.9,842.3 1469.5,834.4 1469.8,827.4C1470.1,820.4 1471.6,813.7 1474,807.3C1476.4,800.9 1480.1,794 1484,788.8C1487.9,783.6 1493,778.5 1497.5,776C1502,773.5 1506.5,774.4 1511,773.6C1515.5,772.8 1519.1,771 1524.4,771Z"/>
<path d="M744,262L739.5,270L735,293L724,320L708,339L694,351L645,351L640,330Z"/>
<path d="M660,1160C661.5,1159.9 664.7,1159.3 669,1159.4C673.3,1159.5 679.4,1158.3 685.6,1160.4C691.8,1162.5 699.4,1167.8 706.3,1171.8C713.2,1175.8 720.8,1180.1 727,1184.2C733.2,1188.3 739.7,1192.5 743.5,1196.6C747.3,1200.7 748.8,1204.5 749.7,1209C750.6,1213.5 749.3,1218.3 748.7,1223.5C748.1,1228.7 746.5,1237.2 746,1240L700,1250L640,1180Z"/>
<path d="M1108,140C1108.6,141.7 1109.4,145.1 1111.7,150.3C1114,155.5 1118.5,164.1 1122,171C1125.5,177.9 1128.9,186.2 1132.4,191.7C1135.9,197.2 1138.7,200.9 1142.8,204C1146.9,207.1 1150.8,209.5 1157.3,210.4C1163.8,211.3 1175.8,211 1182,209.3C1188.2,207.6 1190,204 1194.5,200C1199,196 1204.5,190 1209,185.5C1213.5,181 1216.9,176.1 1221.4,173C1225.9,169.9 1231.2,169.2 1236,167C1240.8,164.8 1247.7,161.2 1250,160L1250,130L1108,130Z"/>
<path d="M1114,1356C1114.7,1354.2 1116,1350.1 1118,1345C1120,1339.9 1123.5,1331.9 1126.2,1325.6C1129,1319.3 1130.7,1312.5 1134.5,1307C1138.3,1301.5 1144.2,1296 1149,1292.5C1153.8,1289 1158.7,1287 1163.5,1286.3C1168.3,1285.6 1173.2,1285.5 1178,1288.3C1182.8,1291 1187.9,1298 1192.4,1302.8C1196.9,1307.6 1200.4,1313.1 1204.9,1317.3C1209.4,1321.5 1214.9,1325.8 1219.4,1327.7C1223.9,1329.6 1227.5,1329 1231.8,1328.7C1236.1,1328.4 1242.8,1326.5 1245,1326L1245,1365L1114,1365Z"/>
<path d="M1290,176C1291,177.8 1293.6,182.3 1296,186.6C1298.4,190.9 1301.8,197 1304.2,202C1306.6,207 1308,213 1310.4,216.6C1312.8,220.2 1311.5,222.4 1318.7,223.8C1326,225.2 1345.3,223.4 1353.9,224.9C1362.5,226.4 1364.9,228.7 1370.4,233C1375.9,237.3 1382.5,245.2 1387,251C1391.5,256.8 1394.3,262.3 1397.5,268C1400.7,273.7 1403.1,279.3 1406,285C1408.9,290.7 1411.7,297.3 1415,302C1418.3,306.7 1421.8,310 1426,313C1430.2,316 1435.2,318.4 1440,320C1444.8,321.6 1446.2,322.2 1455,322.4C1463.8,322.6 1484.6,320.2 1493,321.4C1501.4,322.6 1501.9,326.3 1505.6,329.7C1509.2,333.1 1512.8,337.5 1514.9,342C1517,346.5 1517.8,349.3 1518,356.6C1518.2,363.9 1516.2,377.4 1516,385.6C1515.8,393.8 1516,400.5 1517,406C1518,411.5 1518.7,413.9 1522,418.7C1525.3,423.5 1530.8,429.5 1536.6,435C1542.4,440.5 1548.4,446.3 1557,451.8C1565.6,457.3 1577.9,462.5 1588.3,468C1598.7,473.5 1611.1,480.8 1619.4,485C1627.7,489.2 1632.1,490.7 1638,493C1643.9,495.3 1652.2,498 1655,499L1700,480L1620,300L1420,170L1300,150Z"/>
<path d="M1650,1005C1647.3,1006.1 1640.7,1008.9 1633.9,1011.7C1627.1,1014.5 1617.3,1018.5 1609,1022C1600.7,1025.5 1592.8,1028.6 1584.2,1032.4C1575.6,1036.2 1565.2,1040.3 1557.3,1044.8C1549.4,1049.3 1542.5,1054.5 1536.6,1059.3C1530.7,1064.1 1524.9,1067.9 1522,1073.8C1519.1,1079.7 1519.3,1086.9 1519,1094.5C1518.7,1102.1 1519.5,1111.8 1520,1119.4C1520.5,1127 1522.3,1134.2 1522,1140C1521.7,1145.8 1520.7,1150.7 1518,1154.5C1515.3,1158.3 1511.1,1159.7 1505.6,1162.8C1500.1,1165.9 1491.8,1170.4 1484.9,1173.2C1478,1176 1472.1,1178.4 1464.2,1179.4C1456.3,1180.4 1443.8,1178.5 1437.3,1179.4C1430.8,1180.3 1428.7,1182.2 1425,1185C1421.3,1187.8 1417.8,1191.3 1415,1196C1412.2,1200.7 1410.5,1207 1408,1213C1405.5,1219 1403.3,1225.8 1400,1232C1396.7,1238.2 1392.9,1244.4 1388,1250C1383.1,1255.6 1376.1,1262 1370.4,1265.6C1364.7,1269.2 1360.8,1270.9 1353.9,1271.8C1347,1272.7 1335.2,1270.8 1329,1270.8C1322.8,1270.8 1320,1270.3 1316.6,1271.8C1313.1,1273.3 1310.7,1275.9 1308.3,1280C1305.9,1284.1 1304,1291.8 1302,1296.6C1300,1301.4 1298,1304.8 1296,1309C1294,1313.2 1291,1319.8 1290,1322L1300,1350L1450,1300L1620,1180L1700,1020Z"/>
</g>
<g fill="#60B600">
<path d="M670.4,542C678.5,540.3 694.9,539.7 704.9,542C714.9,544.3 722.1,550.7 730.2,556C738.4,561.3 747.8,568 753.8,574C759.8,580 763.4,586.5 766.4,592C769.4,597.5 770.9,598.8 771.9,606.8C772.9,614.8 772.4,627.9 772.5,640C772.6,652.1 771.4,665.8 772.8,679.3C774.2,692.8 779.5,710 781,721C782.5,732 782.8,734.9 782,745C781.2,755.1 778,770.2 776,781.4C774,792.6 770.8,802 769.7,812.4C768.7,822.8 769,833.5 769.7,843.5C770.4,853.5 773.4,863.9 773.9,872.5C774.4,881.1 774.2,888 772.8,895.2C771.4,902.4 769.6,909.4 765.6,915.9C761.6,922.4 755.2,928.3 749,934.5C742.8,940.7 735.9,948 728.3,953.2C720.7,958.4 712.1,962.7 703.5,965.6C694.9,968.5 685.2,971.1 676.6,970.7C668,970.4 659.7,967.1 651.8,963.5C643.9,959.9 636.2,954.5 629,949C621.8,943.5 615.2,937.6 608.3,930.4C601.4,923.2 592.8,913.2 587.6,905.6C582.4,898 579.2,893.2 577.3,884.9C575.4,876.6 575.9,864.5 576.2,855.9C576.5,847.2 578.3,842 579.3,833C580.3,824 581.9,817.5 582.4,802C582.9,786.5 582.4,760 582.4,740C582.4,720 582.5,697.9 582.3,682C582.1,666.1 581,654.5 581.2,644.6C581.4,634.7 581.2,628.8 583.4,622.6C585.6,616.4 589.6,612.7 594.4,607.2C599.2,601.7 605.4,595.8 612,589.6C618.6,583.4 626.7,576 634,569.8C641.3,563.6 649.9,556.8 656,552.2C662.1,547.6 662.2,543.7 670.4,542Z"/>
<path d="M1428,248C1428.5,249.2 1429.7,251.7 1431,255C1432.3,258.3 1435,263.1 1436,267.6C1437,272.1 1435.1,277.7 1437,282C1438.9,286.3 1444.4,291.8 1447.6,293.5C1450.8,295.2 1452.9,293.3 1456,292.4C1459.1,291.5 1462.9,289.5 1466,288.3C1469.1,287.1 1471.8,286.1 1474.5,285C1477.2,283.9 1480.8,282.5 1482,282L1490,260L1440,235Z"/>
<path d="M1541,343C1541.1,344.2 1541.3,347.1 1541.8,350.4C1542.3,353.7 1544.3,358.4 1543.8,362.8C1543.3,367.2 1540.2,372.2 1538.7,377C1537.2,381.8 1535,387 1534.5,391.8C1534,396.6 1534.2,401.5 1535.6,406C1537,410.5 1539.2,415.2 1542.8,418.7C1546.4,422.2 1551.1,425.3 1557,427C1562.9,428.7 1571.4,428.3 1578,429C1584.6,429.7 1591.8,430 1596.6,431C1601.4,432 1603.9,433.8 1607,435C1610.1,436.2 1613.7,437.5 1615,438L1640,430L1570,335Z"/>
<path d="M1608,1064C1606.5,1064.6 1603.7,1066.6 1598.7,1067.6C1593.7,1068.5 1586,1068.7 1578,1069.7C1570,1070.7 1557.2,1071.8 1551,1073.8C1544.8,1075.8 1543.1,1078.5 1540.7,1082C1538.3,1085.5 1536.9,1089.7 1536.6,1094.5C1536.3,1099.3 1537.5,1106.2 1538.7,1111C1539.9,1115.8 1542.4,1119 1543.8,1123.5C1545.2,1128 1546.6,1133.9 1547,1138C1547.4,1142.1 1546.2,1146.3 1546,1148L1570,1150L1625,1070Z"/>
<path d="M1478,1206C1477.1,1206.8 1476.8,1210.4 1472.4,1211C1468,1211.6 1456.6,1207.8 1451.8,1209.4C1447,1211 1445.2,1216.9 1443.5,1220.8C1441.8,1224.7 1442.3,1229.5 1441.4,1233C1440.5,1236.5 1438.6,1240.5 1438,1242L1460,1245L1490,1215Z"/>
</g>
<g fill="#BCBA00">
<path d="M670.4,570C676.7,569.3 687.1,570.2 694,572.4C700.9,574.6 706,578.8 712,583.3C718,587.8 725.4,593.3 730.2,599.6C735,605.9 738.9,614.1 741,621.3C743.1,628.5 742.7,631.5 742.9,643C743.1,654.5 742.5,673.8 742,690C741.5,706.2 740.2,728.2 740,740C739.8,751.8 740.1,750.4 740.8,760.7C741.4,771 742.9,788.2 743.9,802C744.9,815.8 746.7,831.4 747,843.5C747.3,855.6 747.3,865.5 745.9,874.5C744.5,883.5 742.3,890 738.7,897.3C735.1,904.5 729.4,912.1 724.2,918C719,923.9 713.9,928.4 707.7,932.5C701.5,936.6 693.9,940.9 687,942.8C680.1,944.7 673.2,944.8 666.3,943.8C659.4,942.8 652.5,940.2 645.6,936.6C638.7,933 631.8,927.9 624.9,922C618,916.1 609.7,908.3 604.2,901.4C598.7,894.5 594.2,888.3 591.8,880.7C589.4,873.1 589.5,863.9 589.7,855.9C589.9,847.9 591.1,842 592.8,833C594.5,824 597.4,812.3 600,802C602.6,791.7 606.1,780.5 608.3,771C610.5,761.5 612.4,752.5 613,745C613.6,737.5 612.5,732.8 612,726C611.5,719.2 610.9,711.3 609.8,704C608.7,696.7 606.7,689.3 605.4,682C604.1,674.7 602.7,667.3 602,660C601.3,652.7 600.8,644.6 601,638C601.2,631.4 600.6,625.9 603.2,620.4C605.8,614.9 611.3,610.1 616.4,605C621.5,599.9 627.4,594.4 634,589.6C640.6,584.8 649.9,579.7 656,576.4C662.1,573.1 664.1,570.7 670.4,570Z"/>
<path d="M1560,368C1560.2,369.2 1561.2,371.7 1561.4,375C1561.6,378.3 1560.4,384.1 1561.4,387.6C1562.5,391.1 1564.4,394.1 1567.7,396C1571,397.9 1577.6,398.3 1581,399C1584.4,399.7 1586.8,399.8 1588,400L1600,395L1570,360Z"/>
<path d="M1583,1098C1581.8,1099 1577.8,1101.7 1576,1104C1574.2,1106.3 1573.3,1109.3 1572,1112C1570.7,1114.7 1568.7,1118.7 1568,1120L1580,1120L1590,1100Z"/>
</g>
<g fill="#CC8200">
<path d="M666.8,596C674,596.1 683.4,597.8 690.4,601.4C697.4,605 704.4,611.4 708.5,617.7C712.6,624 714.5,631.9 714.8,639.4C715.1,646.9 713.2,656.4 710.3,663C707.4,669.6 703,674.2 697.6,679.3C692.2,684.4 684.3,690.5 677.7,693.8C671.1,697.1 662.9,699.8 657.8,699.2C652.7,698.6 650.8,694.5 646.9,690C643,685.5 638,678.6 634.2,672C630.4,665.4 626,657.2 624.2,650.3C622.4,643.4 622.2,636.8 623.3,630.4C624.4,624 626.7,617.2 630.6,612.2C634.5,607.2 640.9,603.2 646.9,600.5C652.9,597.8 659.5,595.9 666.8,596Z"/>
<path d="M662,778.3C668.2,778.6 679.4,781.2 687,785.5C694.6,789.8 701.9,797 707.7,804.2C713.5,811.5 718.7,820.4 722,829C725.3,837.6 727.3,847.3 727.3,855.9C727.3,864.5 725.3,873.5 722,880.7C718.7,888 713.5,893.9 707.7,899.4C701.9,904.9 693.9,910.7 687,913.8C680.1,916.9 673.2,918.3 666.3,918C659.4,917.7 652.5,915.6 645.6,911.8C638.7,908 630.4,901.1 624.9,895.2C619.4,889.3 615.6,882.5 612.5,876.6C609.4,870.7 606.6,866.2 606.2,860C605.9,853.8 608,846.5 610.4,839.3C612.8,832.1 616.6,823.8 620.7,816.6C624.8,809.4 630.4,801.4 635.2,795.9C640,790.4 645.2,786.4 649.7,783.5C654.2,780.6 655.8,778 662,778.3Z"/>
</g>
<g fill="#D80000">
<path d="M666,624C668.8,624 673.3,624.3 676,626C678.7,627.7 681.3,631.3 682,634C682.7,636.7 681.3,639.7 680,642C678.7,644.3 677,646.8 674,648C671,649.2 665,649.8 662,649C659,648.2 657.2,645.7 656,643C654.8,640.3 654.5,635.8 655,633C655.5,630.2 657.2,627.5 659,626C660.8,624.5 663.2,624 666,624Z"/>
<path d="M662,819.7C667.2,819.7 675.2,821.6 680.7,824.9C686.2,828.2 691.4,834.1 695.2,839.3C699,844.5 702.5,850.4 703.5,855.9C704.5,861.4 703.8,867.7 701.4,872.5C699,877.3 693.1,881.1 689,884.9C684.9,888.7 682.5,893.5 676.6,895.2C670.7,896.9 660,897.3 653.8,895.2C647.6,893.1 643.4,886.9 639.4,882.8C635.4,878.7 631.6,875.6 630,870.4C628.4,865.2 628.4,857.7 630,851.8C631.6,845.9 636.1,839.7 639.4,835.2C642.7,830.7 645.9,827.5 649.7,824.9C653.5,822.3 656.8,819.7 662,819.7Z"/>
</g>
</g>
<rect x="480" y="130" width="1240" height="1240" fill="url(#lit)"/>
</g>
<g id="scale" filter="url(#tb)">
<rect x="648" y="1407" width="605" height="28.5" fill="#000"/>
<rect x="952" y="1410" width="298" height="22.5" fill="#fff"/>
<g fill="#0a0a14">
<text y="1393.4" font-size="40"><tspan x="636.1" textLength="23.3" lengthAdjust="spacingAndGlyphs">0</tspan></text>
<text y="1393.4" font-size="40"><tspan x="1176.4" textLength="144" lengthAdjust="spacingAndGlyphs">2e+006</tspan> <tspan x="1336.2" textLength="87.5" lengthAdjust="spacingAndGlyphs">(um)</tspan></text>
<text y="1481.5" font-size="40"><tspan x="878.3" textLength="142.6" lengthAdjust="spacingAndGlyphs">1e+006</tspan></text>
</g>
</g>
<g id="triad" filter="url(#tb)">
<text x="1706" y="1244.5" font-size="37" fill="#1a1aff" textLength="24" lengthAdjust="spacingAndGlyphs">Z</text>
<text x="1568" y="1382" font-size="38" fill="#ff2020" textLength="26" lengthAdjust="spacingAndGlyphs">X</text>
<text x="1706" y="1381" font-size="38" fill="#10c020" textLength="27" lengthAdjust="spacingAndGlyphs">Y</text>
<rect x="1707.5" y="1286" width="9" height="92" fill="#0a0acc"/>
<path d="M1712,1262L1723,1289L1701,1289Z" fill="#0808c8"/>
<rect x="1596" y="1376.5" width="110" height="8" fill="#c80808"/>
<path d="M1597,1380.5L1621,1370L1621,1391Z" fill="#a00000"/>
<circle cx="1712" cy="1381" r="12.5" fill="#0a6a14"/>
<circle cx="1656" cy="1324" r="13" fill="url(#ball)"/>
</g>
</svg>
</body>
</html>
